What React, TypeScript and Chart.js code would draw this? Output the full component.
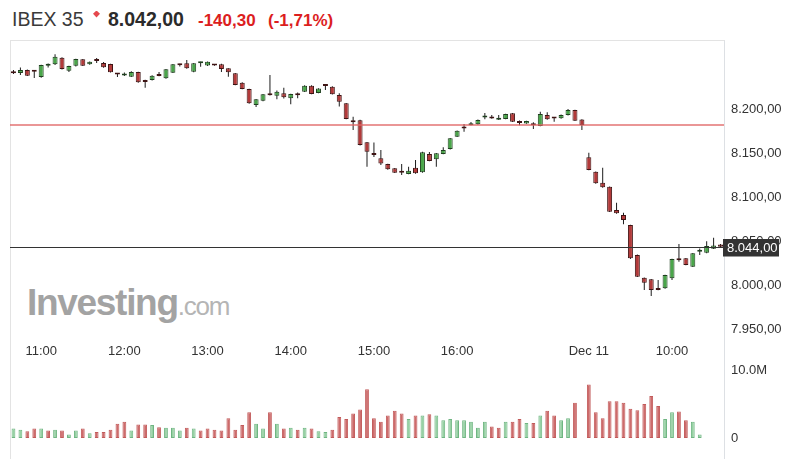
import React, { useEffect, useRef } from "react";
import { Chart, registerables } from "chart.js";

Chart.register(...registerables);

const FONT = "Arial, 'Liberation Sans', Helvetica, sans-serif";

// ---- Data ----
const sessions = [
  { day: "Dec 10", start: "10:40", end: "17:30" },
  { day: "Dec 11", start: "09:00", end: "10:35" },
];

function buildCategories(): string[] {
  const out: string[] = [];
  for (const s of sessions) {
    const [sh, sm] = s.start.split(":").map(Number);
    const [eh, em] = s.end.split(":").map(Number);
    for (let t = sh * 60 + sm; t <= eh * 60 + em; t += 5) {
      const h = String(Math.floor(t / 60)).padStart(2, "0");
      const m = String(t % 60).padStart(2, "0");
      out.push(`${s.day} ${h}:${m}`);
    }
  }
  return out;
}
const categories = buildCategories();

const xTickAt = ["Dec 10 11:00", "Dec 10 12:00", "Dec 10 13:00", "Dec 10 14:00", "Dec 10 15:00", "Dec 10 16:00", "Dec 11 09:00", "Dec 11 10:00"];
const xTickText = ["11:00", "12:00", "13:00", "14:00", "15:00", "16:00", "Dec 11", "10:00"];

const opens = [
  8242.0, 8241.5, 8244.9, 8243.5, 8236.9, 8249.8, 8251.4, 8258.9, 8244.1, 8249.8,
  8257.1, 8251.4, 8255.5, 8252.8, 8251.7, 8240.0, 8238.6, 8237.3, 8242.6, 8231.7,
  8233.5, 8238.6, 8235.4, 8241.8, 8250.8, 8252.5, 8243.0, 8252.5, 8250.0, 8250.2,
  8251.4, 8246.8, 8241.1, 8230.5, 8223.3, 8205.1, 8210.0, 8216.8, 8215.7, 8218.4,
  8212.7, 8216.7, 8220.2, 8227.1, 8218.9, 8227.0, 8225.9, 8216.5, 8207.0, 8186.0,
  8187.9, 8162.6, 8148.8, 8144.5, 8137.9, 8133.1, 8128.3, 8126.6, 8133.7, 8128.5,
  8149.3, 8143.3, 8149.3, 8155.0, 8169.0, 8178.6, 8182.2, 8183.1, 8190.8, 8190.1,
  8188.4, 8189.2, 8195.6, 8184.9, 8184.2, 8182.4, 8181.2, 8193.7, 8189.9, 8189.9,
  8193.7, 8199.4, 8188.5, 8145.6, 8129.2, 8116.7, 8112.1, 8085.7, 8080.0, 8068.6,
  8034.5, 8008.6, 8006.8, 7995.1, 7996.6, 8008.0, 8028.8, 8030.7, 8021.2, 8038.2,
  8037.0, 8041.6, 8046.5,
];
const highs = [
  8244.9, 8247.7, 8245.5, 8244.0, 8251.0, 8252.3, 8262.7, 8259.5, 8249.8, 8257.8,
  8257.5, 8254.7, 8258.5, 8254.0, 8252.0, 8240.5, 8242.0, 8243.5, 8243.0, 8233.8,
  8239.0, 8242.6, 8246.0, 8251.8, 8252.0, 8256.3, 8253.0, 8254.3, 8254.7, 8251.7,
  8252.0, 8247.0, 8241.5, 8231.0, 8223.5, 8212.0, 8217.7, 8239.2, 8221.5, 8224.8,
  8218.0, 8219.2, 8227.5, 8227.5, 8224.2, 8228.5, 8226.3, 8218.6, 8207.5, 8191.8,
  8188.3, 8163.0, 8162.4, 8153.9, 8138.3, 8133.5, 8138.0, 8134.9, 8142.6, 8151.8,
  8151.6, 8150.5, 8157.0, 8167.6, 8176.2, 8183.5, 8185.8, 8188.5, 8196.0, 8193.7,
  8193.7, 8195.2, 8196.0, 8187.6, 8187.3, 8185.6, 8197.5, 8196.8, 8190.5, 8194.2,
  8200.5, 8199.8, 8189.0, 8150.8, 8129.6, 8133.8, 8112.5, 8094.0, 8082.6, 8069.0,
  8035.0, 8009.0, 8007.2, 8006.1, 8012.0, 8030.3, 8047.0, 8031.0, 8036.8, 8042.0,
  8050.1, 8054.0, 8047.0,
];
const lows = [
  8240.5, 8239.2, 8238.0, 8235.8, 8236.0, 8247.7, 8250.5, 8245.5, 8242.6, 8249.0,
  8249.4, 8251.0, 8252.8, 8247.5, 8242.0, 8236.9, 8238.2, 8237.0, 8230.5, 8224.8,
  8233.0, 8237.8, 8235.0, 8241.4, 8249.0, 8246.4, 8242.5, 8248.6, 8249.6, 8249.8,
  8242.6, 8237.3, 8227.5, 8223.0, 8206.5, 8202.8, 8209.5, 8215.8, 8211.6, 8212.6,
  8205.9, 8212.8, 8219.8, 8217.2, 8218.5, 8222.2, 8217.0, 8203.3, 8188.8, 8176.7,
  8159.0, 8134.9, 8146.1, 8136.8, 8131.5, 8127.7, 8125.4, 8126.2, 8127.0, 8128.0,
  8141.0, 8134.9, 8149.0, 8154.6, 8168.6, 8174.7, 8182.0, 8182.7, 8189.0, 8189.6,
  8188.0, 8188.8, 8185.7, 8182.0, 8183.8, 8177.8, 8180.8, 8188.4, 8186.0, 8189.5,
  8193.3, 8186.8, 8176.7, 8130.8, 8115.6, 8111.1, 8083.3, 8081.5, 8069.4, 8030.0,
  8009.4, 7994.7, 7987.9, 7994.3, 7996.0, 8006.0, 8026.8, 8022.7, 8020.8, 8034.5,
  8036.6, 8041.2, 8043.5,
];
const closes = [
  8241.2, 8244.9, 8238.4, 8243.0, 8250.6, 8250.2, 8260.0, 8246.0, 8249.4, 8257.4,
  8249.8, 8254.3, 8255.3, 8248.0, 8242.3, 8239.8, 8239.2, 8242.6, 8230.9, 8231.3,
  8238.4, 8238.2, 8245.7, 8251.4, 8250.4, 8246.8, 8252.5, 8252.8, 8254.3, 8250.0,
  8246.0, 8242.3, 8227.8, 8223.3, 8207.0, 8211.6, 8217.3, 8216.2, 8220.2, 8213.8,
  8217.6, 8216.3, 8227.1, 8217.6, 8223.8, 8226.6, 8217.3, 8208.9, 8189.2, 8185.5,
  8159.6, 8151.9, 8148.3, 8138.7, 8131.9, 8128.1, 8128.0, 8130.4, 8127.4, 8151.3,
  8141.4, 8150.1, 8153.9, 8167.2, 8175.8, 8178.4, 8182.6, 8188.1, 8191.1, 8189.8,
  8190.1, 8194.8, 8186.1, 8184.7, 8186.9, 8182.2, 8194.8, 8188.8, 8189.7, 8193.7,
  8199.4, 8187.2, 8182.3, 8131.2, 8116.0, 8111.5, 8083.7, 8081.9, 8074.3, 8030.7,
  8009.8, 8003.0, 7994.7, 7994.7, 8011.7, 8029.9, 8028.6, 8023.1, 8036.4, 8038.5,
  8044.6, 8045.2, 8044.0,
];

// volume in millions
const volumes = [
  1.4, 1.2, 1.0, 1.4, 1.4, 1.1, 1.2, 1.1, 0.5, 1.1,
  1.4, 0.7, 0.9, 0.9, 1.2, 2.1, 2.4, 1.1, 2.0, 2.0,
  1.9, 1.6, 1.5, 1.5, 1.1, 1.5, 1.4, 1.1, 1.4, 1.2,
  1.1, 2.9, 1.2, 1.9, 3.8, 2.1, 1.4, 3.8, 2.1, 1.4,
  1.5, 1.2, 1.5, 1.4, 1.0, 0.9, 1.2, 3.1, 2.8, 3.6,
  4.2, 7.2, 2.9, 2.4, 3.3, 4.0, 3.6, 2.8, 3.3, 3.3,
  3.5, 3.3, 2.6, 2.8, 2.6, 2.6, 2.4, 1.5, 2.4, 1.7,
  1.5, 2.4, 2.4, 2.8, 2.2, 2.2, 3.3, 4.0, 3.3, 2.6,
  2.9, 5.2, null, 7.9, 3.8, 2.9, 5.4, 5.4, 5.2, 4.3,
  4.1, 5.0, 6.2, 4.7, 2.8, 3.8, 3.9, 2.6, 2.4, 0.5,
  null, null, null,
];
const volumeUp = [
  1, 1, 0, 0, 1, 0, 1, 0, 1, 1,
  0, 1, 0, 0, 0, 0, 0, 1, 0, 0,
  1, 0, 1, 1, 1, 0, 1, 0, 0, 0,
  0, 0, 0, 0, 0, 1, 1, 0, 1, 0,
  1, 0, 1, 0, 1, 1, 0, 0, 0, 0,
  0, 0, 0, 0, 0, 0, 0, 1, 0, 1,
  0, 1, 1, 1, 1, 1, 1, 1, 1, 0,
  0, 1, 0, 0, 1, 0, 1, 0, 0, 1,
  1, 0, 0, 0, 0, 0, 0, 0, 0, 0,
  0, 0, 0, 0, 1, 1, 0, 0, 1, 1,
  1, 1, 0,
];

const priceTicks = [7950, 8000, 8050, 8100, 8150, 8200];
const priceMin = 7937.8;
const priceMax = 8279.05;
const prevClose = 8182.3;
const lastPrice = 8044.0;
const volTicks = [0, 10];
const volTickText = ["0", "10.0M"];
const volMax = 10.79;

const headerName = "IBEX 35";
const headerPrice = "8.042,00";
const headerChange = "-140,30";
const headerPct = "(-1,71%)";

function fmt(v: number): string {
  const [i, d] = v.toFixed(2).split(".");
  return i.replace(/\B(?=(\d{3})+(?!\d))/g, ".") + "," + d;
}

const overlayPlugin = {
  id: "overlayLines",
  afterDatasetsDraw(chart: any) {
    const { ctx, chartArea, scales } = chart;
    const y = scales.y;
    ctx.save();
    const yr = y.getPixelForValue(prevClose);
    ctx.strokeStyle = "rgba(224,100,100,0.9)";
    ctx.lineWidth = 1.5;
    ctx.beginPath();
    ctx.moveTo(chartArea.left, yr);
    ctx.lineTo(chartArea.right, yr);
    ctx.stroke();
    const yb = Math.round(y.getPixelForValue(lastPrice)) + 0.5;
    ctx.strokeStyle = "#333";
    ctx.lineWidth = 1;
    ctx.beginPath();
    ctx.moveTo(chartArea.left, yb);
    ctx.lineTo(chartArea.right, yb);
    ctx.stroke();
    ctx.restore();
  },
  afterDraw(chart: any) {
    const { ctx, chartArea, scales } = chart;
    const yb = Math.round(scales.y.getPixelForValue(lastPrice)) + 0.5;
    ctx.save();
    ctx.fillStyle = "#333";
    ctx.fillRect(chartArea.right - 1, yb - 8.5, 56, 17.5);
    ctx.fillStyle = "#fff";
    ctx.font = `13px ${FONT}`;
    ctx.textBaseline = "middle";
    ctx.textAlign = "left";
    ctx.fillText(fmt(lastPrice), chartArea.right + 3, yb + 0.5);
    ctx.restore();
  },
};

export default function App() {
  const priceRef = useRef<HTMLCanvasElement>(null);
  const volRef = useRef<HTMLCanvasElement>(null);

  useEffect(() => {
    const bodyData = opens.map((o, i) => [o, closes[i]]);
    const wickData = lows.map((l, i) => [l, highs[i]]);
    const isUp = opens.map((o, i) => closes[i] >= o);

    const pc = new Chart(priceRef.current as HTMLCanvasElement, {
      type: "bar",
      data: {
        labels: categories,
        datasets: [
          {
            data: bodyData as any,
            grouped: false,
            backgroundColor: isUp.map((u) => (u ? "#4aa64a" : "#b23a3a")),
            borderColor: isUp.map((u) => (u ? "#1f401f" : "#3f1414")),
            borderWidth: 1,
            borderSkipped: false,
            barPercentage: 0.72,
            categoryPercentage: 1,
            minBarLength: 2,
            inflateAmount: 0,
            order: 0,
          } as any,
          {
            data: wickData as any,
            grouped: false,
            backgroundColor: "#1c1c1c",
            barThickness: 1,
            borderWidth: 0,
            inflateAmount: 0,
            order: 1,
          } as any,
        ],
      },
      options: {
        responsive: false,
        animation: false,
        events: [],
        layout: { padding: { top: 40, left: 10, right: 0, bottom: 0 } },
        plugins: { legend: { display: false }, tooltip: { enabled: false } },
        scales: {
          x: {
            offset: true,
            grid: { display: false, drawTicks: false },
            border: { display: false },
            ticks: {
              autoSkip: false,
              maxRotation: 0,
              minRotation: 0,
              padding: 4,
              color: "#333",
              font: { family: FONT, size: 13 },
              callback: (_v: any, index: number) => {
                const k = xTickAt.indexOf(categories[index]);
                return k >= 0 ? xTickText[k] : "";
              },
            },
            afterFit: (s: any) => {
              s.height = 25;
            },
          },
          y: {
            position: "right",
            min: priceMin,
            max: priceMax,
            grid: { display: false, drawTicks: false },
            border: { display: false },
            ticks: {
              padding: 7,
              color: "#333",
              font: { family: FONT, size: 13 },
              callback: (v: any) => fmt(Number(v)),
            },
            afterBuildTicks: (s: any) => {
              s.ticks = priceTicks.map((v) => ({ value: v }));
            },
            afterFit: (s: any) => {
              s.width = 65;
            },
          },
        },
      } as any,
      plugins: [overlayPlugin],
    });

    const vc = new Chart(volRef.current as HTMLCanvasElement, {
      type: "bar",
      data: {
        labels: categories,
        datasets: [
          {
            data: volumes as any,
            backgroundColor: volumeUp.map((u) => (u ? "#97d1a4" : "#cd6b6b")),
            borderColor: volumeUp.map((u) => (u ? "#6fb582" : "#c25b5b")),
            borderWidth: 1,
            borderSkipped: false,
            barPercentage: 0.55,
            categoryPercentage: 1,
            inflateAmount: 0,
          } as any,
        ],
      },
      options: {
        responsive: false,
        animation: false,
        events: [],
        layout: { padding: { top: 10, left: 10, right: 0, bottom: 21 } },
        plugins: { legend: { display: false }, tooltip: { enabled: false } },
        scales: {
          x: { display: false, offset: true },
          y: {
            position: "right",
            min: 0,
            max: volMax,
            grid: { display: false, drawTicks: false },
            border: { display: false },
            ticks: {
              padding: 7,
              color: "#333",
              font: { family: FONT, size: 13 },
              callback: (v: any) => {
                const k = volTicks.indexOf(Number(v));
                return k >= 0 ? volTickText[k] : "";
              },
            },
            afterBuildTicks: (s: any) => {
              s.ticks = volTicks.map((v) => ({ value: v }));
            },
            afterFit: (s: any) => {
              s.width = 65;
            },
          },
        },
      } as any,
    });

    return () => {
      pc.destroy();
      vc.destroy();
    };
  }, []);

  const red = "#dc1e1e";
  return (
    <div
      style={{
        position: "absolute",
        left: 0,
        top: 0,
        width: 789,
        height: 459,
        background: "#fff",
        overflow: "hidden",
        fontFamily: FONT,
      }}
    >
      <div style={{ position: "absolute", left: 12, top: 9.5, fontSize: 19.5, lineHeight: 1, color: "#3a3a3a", whiteSpace: "nowrap" }}>
        {headerName}
      </div>
      <div
        style={{
          position: "absolute",
          left: 93,
          top: 10.5,
          width: 7,
          height: 7,
          background: "#e5484d",
          clipPath: "polygon(50% 0, 100% 45%, 50% 100%, 0 45%)",
        }}
      />
      <div style={{ position: "absolute", left: 108, top: 9.5, fontSize: 19.5, lineHeight: 1, fontWeight: 700, color: "#2b2b2b", whiteSpace: "nowrap" }}>
        {headerPrice}
      </div>
      <div style={{ position: "absolute", left: 198, top: 11.6, fontSize: 17, lineHeight: 1, fontWeight: 700, color: red, whiteSpace: "nowrap" }}>
        {headerChange}
      </div>
      <div style={{ position: "absolute", left: 268, top: 11.6, fontSize: 17, lineHeight: 1, fontWeight: 700, color: red, whiteSpace: "nowrap" }}>
        {headerPct}
      </div>

      <div
        style={{
          position: "absolute",
          left: 10,
          top: 40,
          width: 715,
          height: 430,
          boxSizing: "border-box",
          borderTop: "1px solid #e3e3e3",
          borderLeft: "1px solid #e3e3e3",
          borderRight: "1px solid #dde0e4",
        }}
      />

      <div style={{ position: "absolute", left: 27, top: 283.7, fontSize: 37, lineHeight: 1, whiteSpace: "nowrap" }}>
        <span style={{ fontWeight: 700, color: "#a3a3a3", letterSpacing: "-1.3px" }}>Investing</span>
        <span style={{ fontWeight: 400, fontSize: 26, color: "#b5b5b5", letterSpacing: "-1.2px" }}>.com</span>
      </div>

      <canvas ref={priceRef} width={789} height={365} style={{ position: "absolute", left: 0, top: 0 }} />
      <canvas ref={volRef} width={789} height={109} style={{ position: "absolute", left: 0, top: 350 }} />
    </div>
  );
}
